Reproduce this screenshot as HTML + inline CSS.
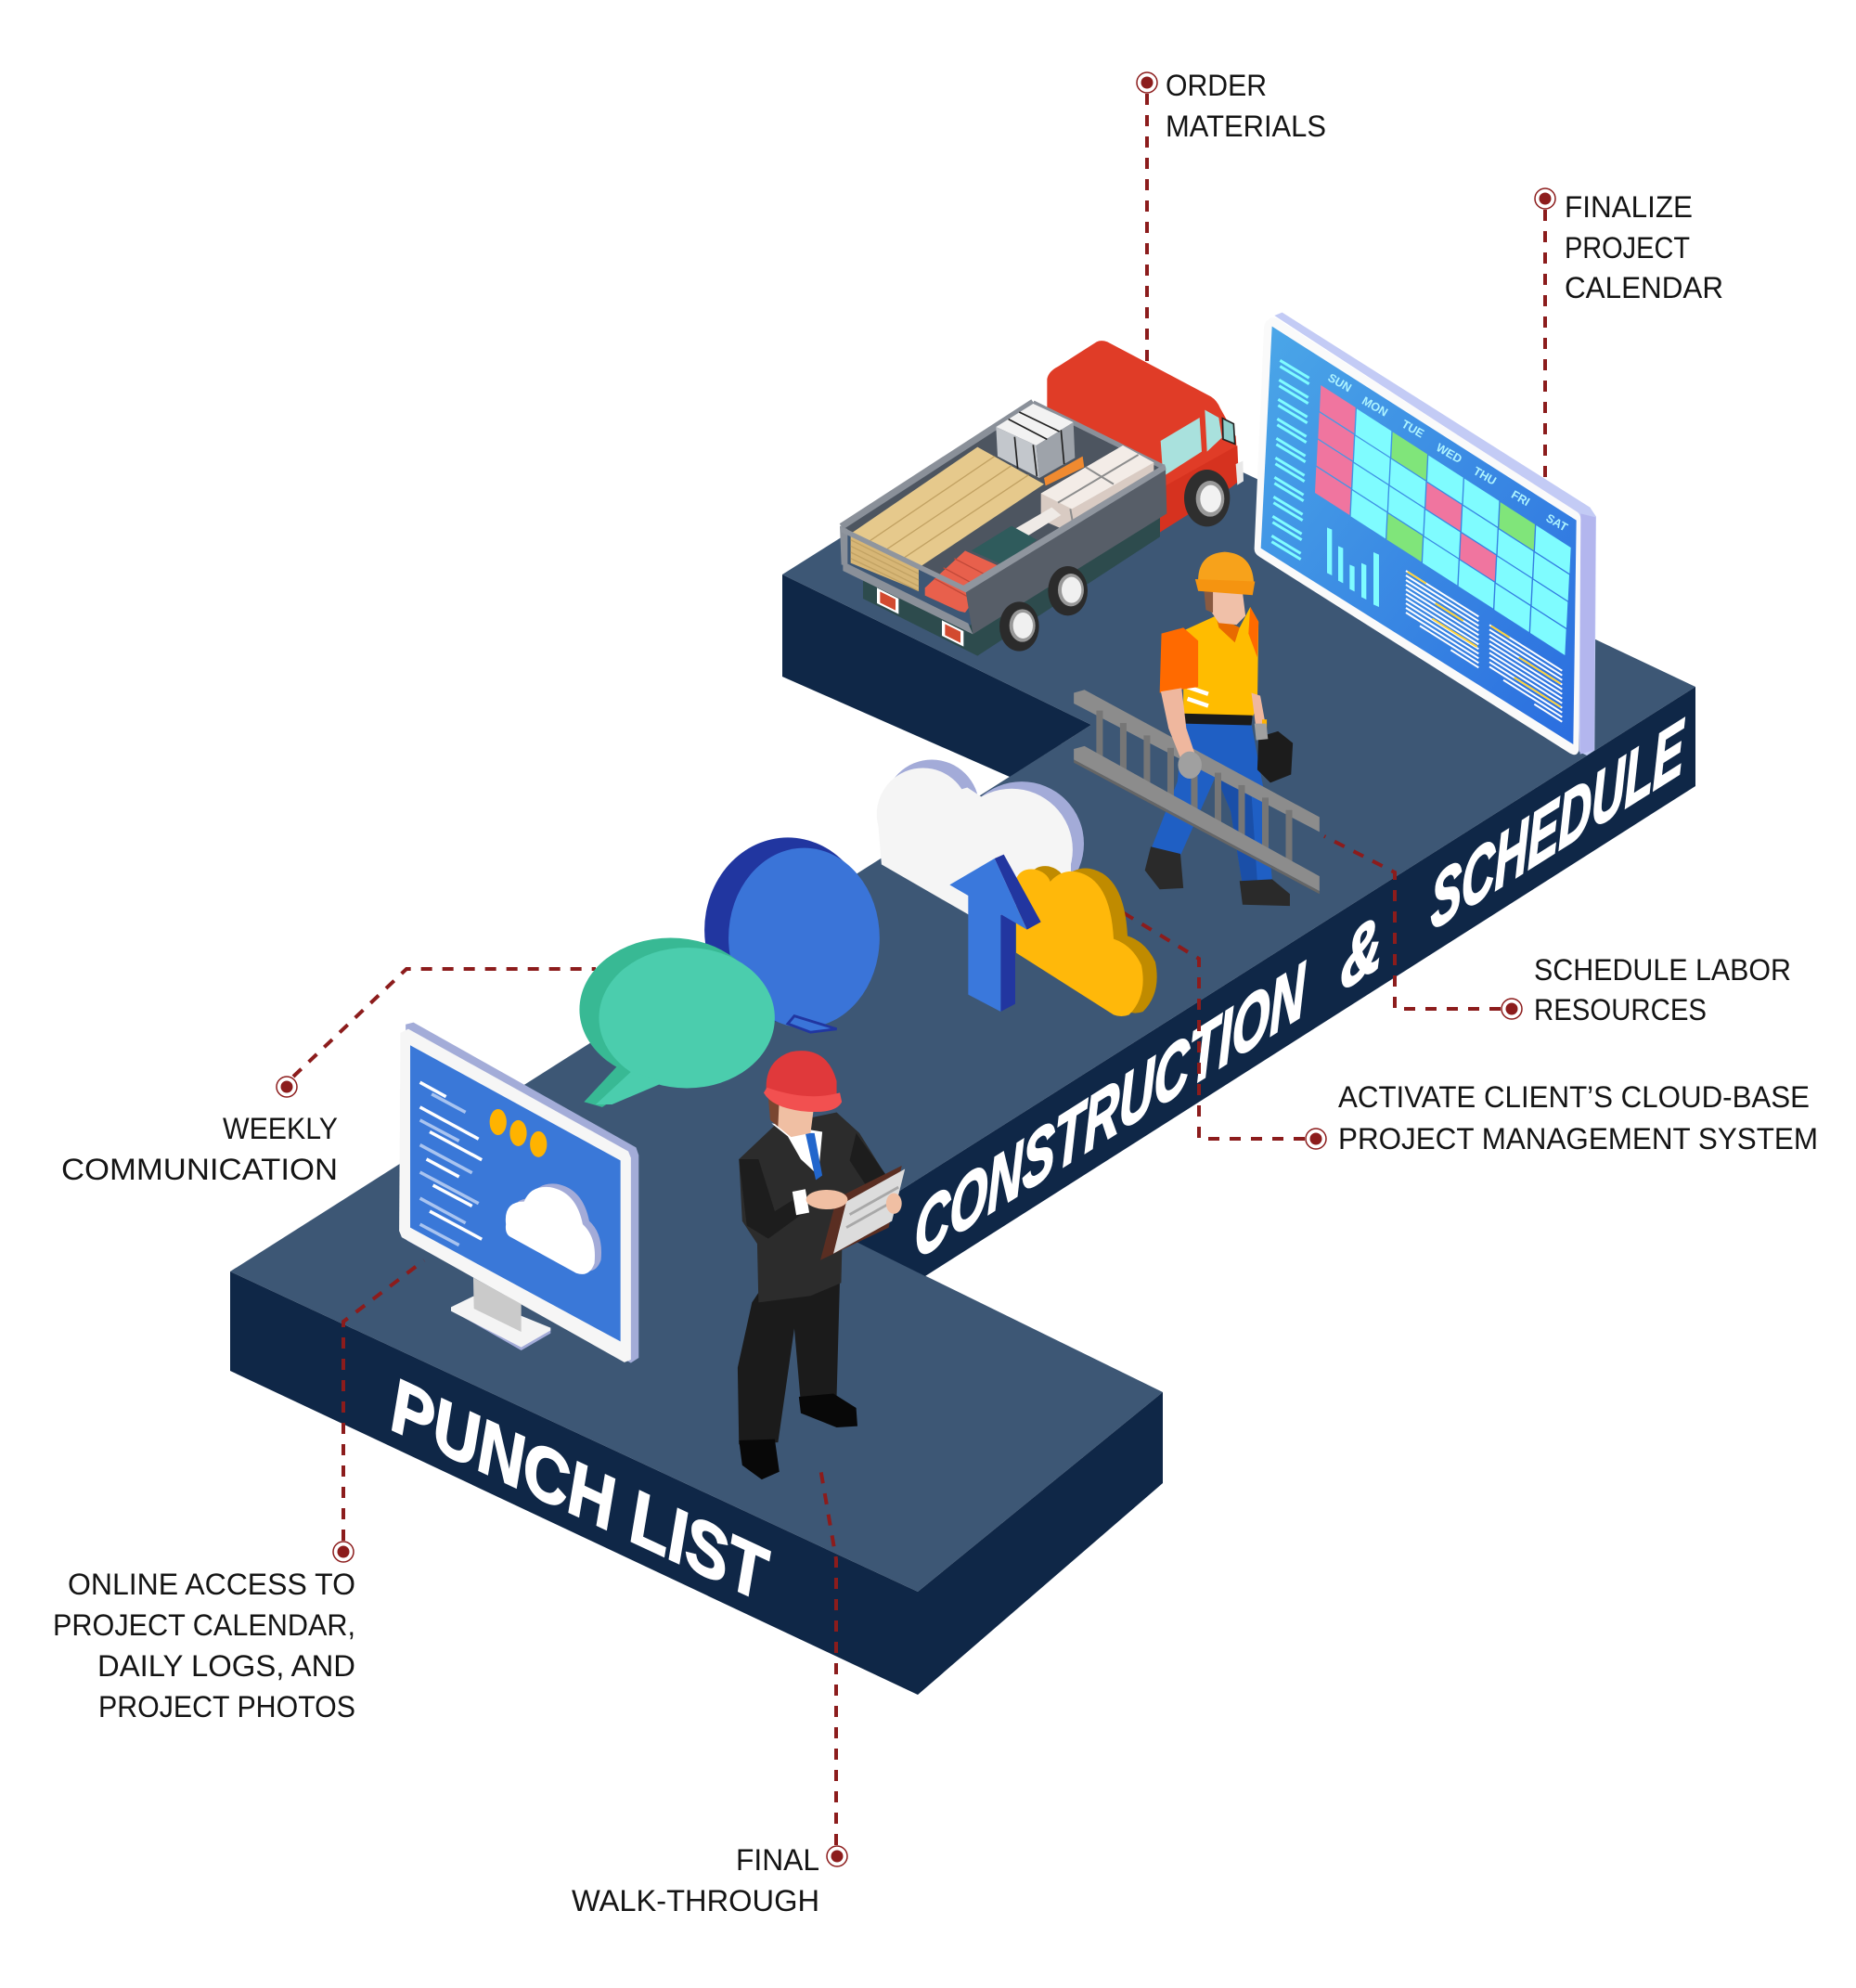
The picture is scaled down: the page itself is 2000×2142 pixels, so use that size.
<!DOCTYPE html>
<html><head><meta charset="utf-8"><style>
html,body{margin:0;padding:0;background:#fff;}
svg{display:block;}
.lbl{font-family:"Liberation Sans",sans-serif;font-size:32px;fill:#141414;}
.big{font-family:"Liberation Sans",sans-serif;font-weight:bold;font-style:italic;fill:#fff;stroke:#fff;stroke-width:2.5;}
</style></head><body>
<svg width="2000" height="2142" viewBox="0 0 2000 2142" xmlns="http://www.w3.org/2000/svg">
<defs>
<linearGradient id="scr" x1="0" y1="0" x2="1" y2="1">
<stop offset="0" stop-color="#4ba7e8"/><stop offset="1" stop-color="#2a6ddf"/>
</linearGradient>
</defs>
<rect width="2000" height="2142" fill="#fff"/>

<!-- platforms -->
<polygon points="843,619 1156,422 1827,740 900,1327 1253,1500 989,1715 248,1370 1176,781" fill="#3d5775"/>
<polygon points="843,619 1176,781 1088,837 843,729" fill="#0f2747"/>
<polygon points="1827,740 1827,847 997,1375 900,1327" fill="#0f2747"/>
<polygon points="248,1370 989,1715 989,1826 248,1477" fill="#0f2747"/>
<polygon points="989,1715 1253,1500 1253,1598 989,1826" fill="#0f2747"/>

<!-- band text -->
<text class="big" font-size="82" transform="matrix(1,-0.632,0,1,986,1358)" textLength="420" lengthAdjust="spacingAndGlyphs">CONSTRUCTION</text>
<text class="big" font-size="82" transform="matrix(1,-0.632,0,1,1445,1068)" textLength="44" lengthAdjust="spacingAndGlyphs">&amp;</text>
<text class="big" font-size="82" transform="matrix(1,-0.632,0,1,1542,1003)" textLength="272" lengthAdjust="spacingAndGlyphs">SCHEDULE</text>
<text class="big" font-size="84" transform="matrix(1,0.466,0,1,422,1540)" textLength="403" lengthAdjust="spacingAndGlyphs">PUNCH LIST</text>

<!-- dashed connectors -->
<g fill="none" stroke="#8c1c1c" stroke-width="4" stroke-dasharray="12 11">
<path d="M1236,101 V395"/>
<path d="M1665,226 V520"/>
<path d="M1617,1087 H1503 V940 L1427,901"/>
<path d="M1406,1227 H1292 V1033 L1208,982"/>
<path d="M316,1160 L438,1044 H642"/>
<path d="M370,1660 V1424 L457,1358"/>
<path d="M901,1988 V1680 L884,1582"/>
</g>
<g>
<circle cx="1236" cy="89" r="11" fill="#fff" stroke="#8c1c1c" stroke-width="1.5"/><circle cx="1236" cy="89" r="6.5" fill="#8c1c1c"/>
<circle cx="1665" cy="214" r="11" fill="#fff" stroke="#8c1c1c" stroke-width="1.5"/><circle cx="1665" cy="214" r="6.5" fill="#8c1c1c"/>
<circle cx="1629" cy="1087" r="11" fill="#fff" stroke="#8c1c1c" stroke-width="1.5"/><circle cx="1629" cy="1087" r="6.5" fill="#8c1c1c"/>
<circle cx="1418" cy="1227" r="11" fill="#fff" stroke="#8c1c1c" stroke-width="1.5"/><circle cx="1418" cy="1227" r="6.5" fill="#8c1c1c"/>
<circle cx="309" cy="1171" r="11" fill="#fff" stroke="#8c1c1c" stroke-width="1.5"/><circle cx="309" cy="1171" r="6.5" fill="#8c1c1c"/>
<circle cx="370" cy="1672" r="11" fill="#fff" stroke="#8c1c1c" stroke-width="1.5"/><circle cx="370" cy="1672" r="6.5" fill="#8c1c1c"/>
<circle cx="902" cy="2000" r="11" fill="#fff" stroke="#8c1c1c" stroke-width="1.5"/><circle cx="902" cy="2000" r="6.5" fill="#8c1c1c"/>
</g>

<!-- labels -->
<text class="lbl" x="1256" y="103" textLength="109" lengthAdjust="spacingAndGlyphs">ORDER</text>
<text class="lbl" x="1256" y="147" textLength="173" lengthAdjust="spacingAndGlyphs">MATERIALS</text>
<text class="lbl" x="1686" y="234" textLength="138" lengthAdjust="spacingAndGlyphs">FINALIZE</text>
<text class="lbl" x="1686" y="278" textLength="135" lengthAdjust="spacingAndGlyphs">PROJECT</text>
<text class="lbl" x="1686" y="321" textLength="171" lengthAdjust="spacingAndGlyphs">CALENDAR</text>
<text class="lbl" x="1653" y="1056" textLength="277" lengthAdjust="spacingAndGlyphs">SCHEDULE LABOR</text>
<text class="lbl" x="1653" y="1099" textLength="186" lengthAdjust="spacingAndGlyphs">RESOURCES</text>
<text class="lbl" x="1442" y="1193" textLength="508" lengthAdjust="spacingAndGlyphs">ACTIVATE CLIENT’S CLOUD-BASE</text>
<text class="lbl" x="1442" y="1238" textLength="517" lengthAdjust="spacingAndGlyphs">PROJECT MANAGEMENT SYSTEM</text>
<text class="lbl" x="240" y="1227" textLength="124" lengthAdjust="spacingAndGlyphs">WEEKLY</text>
<text class="lbl" x="66" y="1271" textLength="298" lengthAdjust="spacingAndGlyphs">COMMUNICATION</text>
<text class="lbl" x="73" y="1718" textLength="310" lengthAdjust="spacingAndGlyphs">ONLINE ACCESS TO</text>
<text class="lbl" x="57" y="1762" textLength="326" lengthAdjust="spacingAndGlyphs">PROJECT CALENDAR,</text>
<text class="lbl" x="105" y="1806" textLength="278" lengthAdjust="spacingAndGlyphs">DAILY LOGS, AND</text>
<text class="lbl" x="106" y="1850" textLength="277" lengthAdjust="spacingAndGlyphs">PROJECT PHOTOS</text>
<text class="lbl" x="793" y="2015" textLength="90" lengthAdjust="spacingAndGlyphs">FINAL</text>
<text class="lbl" x="616" y="2059" textLength="267" lengthAdjust="spacingAndGlyphs">WALK-THROUGH</text>

<!-- TRUCK (zoom7 coords) -->
<g transform="translate(880,340) scale(0.33333)">
<path d="M745,205 Q750,180 780,165 L905,85 Q920,78 940,85 L1275,262 Q1295,275 1305,300 L1355,390 L1365,535 L1340,555 L1110,700 L1108,490 L745,300 Z" fill="#e03c27"/>
<polygon points="1110,560 1360,420 1365,535 1340,555 1110,700" fill="#d6321f"/>
<polygon points="1112,405 1238,330 1245,440 1120,520" fill="#a9e1dd"/>
<polygon points="1255,305 1300,330 1310,395 1262,440" fill="#a9e1dd"/>
<polygon points="1312,332 1348,350 1352,415 1314,400" fill="#8fd0cc" stroke="#222" stroke-width="5"/>
<polygon points="1355,480 1378,470 1380,535 1360,548" fill="#e8e8e8"/>
<ellipse cx="1262" cy="590" rx="74" ry="92" fill="#2f2f2f"/>
<ellipse cx="1272" cy="592" rx="46" ry="58" fill="#999"/>
<ellipse cx="1274" cy="592" rx="34" ry="44" fill="#f2f2f2"/>
<polygon points="150,850 480,1010 1110,650 1110,715 520,1100 150,915" fill="#2d4b4d"/>
<polygon points="75,685 700,280 1125,492 480,885" fill="#4d5560"/>
<line x1="80" y1="682" x2="700" y2="280" stroke="#8a9099" stroke-width="22"/>
<line x1="700" y1="282" x2="1122" y2="490" stroke="#8a9099" stroke-width="16"/>
<!-- wood -->
<polygon points="110,705 520,425 735,545 330,815" fill="#e6c98c"/>
<polygon points="110,705 330,815 330,890 110,800" fill="#d7b676"/>
<g stroke="#c2a263" stroke-width="4">
<line x1="110" y1="725" x2="330" y2="835"/><line x1="110" y1="745" x2="330" y2="855"/><line x1="110" y1="765" x2="330" y2="875"/><line x1="110" y1="785" x2="330" y2="890"/>
<line x1="165" y1="733" x2="575" y2="455"/><line x1="220" y1="760" x2="630" y2="485"/><line x1="275" y1="788" x2="685" y2="515"/>
</g>
<!-- metal bundle -->
<polygon points="580,360 700,285 830,345 710,420" fill="#f2f2f2"/>
<polygon points="580,360 710,420 720,525 585,455" fill="#c3c7cc"/>
<polygon points="710,420 830,345 835,460 720,525" fill="#9ea3aa"/>
<g stroke="#222" stroke-width="5"><line x1="620" y1="335" x2="745" y2="400"/><line x1="655" y1="312" x2="785" y2="375"/><line x1="640" y1="392" x2="650" y2="495"/><line x1="700" y1="418" x2="712" y2="520"/><line x1="790" y1="370" x2="800" y2="480"/></g>
<polygon points="735,525 860,455 865,490 740,550" fill="#f08a30"/>
<!-- boxes -->
<polygon points="725,575 990,420 1090,475 1090,525 795,690 725,660" fill="#d9cbc3"/>
<polygon points="725,575 990,420 1090,475 825,625" fill="#f3ece7"/>
<g stroke="#8d8d8d" stroke-width="6"><line x1="780" y1="605" x2="1040" y2="450"/><line x1="870" y1="490" x2="960" y2="545"/><line x1="820" y1="625" x2="830" y2="680"/></g>
<polygon points="640,690 760,620 790,645 670,720" fill="#efeae6"/>
<polygon points="500,760 630,680 712,725 600,805" fill="#2f5b5c"/>
<polygon points="350,880 480,760 590,810 480,960 460,955 350,905" fill="#e8604c"/>
<g stroke="#c04838" stroke-width="4"><line x1="380" y1="850" x2="500" y2="915"/><line x1="410" y1="815" x2="530" y2="880"/><line x1="445" y1="785" x2="560" y2="845"/></g>
<!-- near wall -->
<polygon points="480,880 1128,488 1132,640 505,1030" fill="#575e68"/>
<polygon points="475,872 1125,480 1130,498 482,895" fill="#8f959e"/>
<polygon points="75,680 100,690 100,810 80,805" fill="#8a9099"/>
<polygon points="85,795 490,995 505,1030 85,825" fill="#8a9099"/>
<polygon points="75,680 480,875 482,895 80,700" fill="#8f959e"/>
<polygon points="195,880 265,915 265,965 195,930" fill="#fff"/>
<polygon points="205,892 255,917 255,953 205,928" fill="#d24a30"/>
<polygon points="405,985 475,1020 475,1070 405,1035" fill="#fff"/>
<polygon points="415,997 465,1022 465,1058 415,1033" fill="#d24a30"/>
<ellipse cx="655" cy="1005" rx="64" ry="80" fill="#2b2b2b"/>
<ellipse cx="665" cy="1002" rx="42" ry="53" fill="#999"/>
<ellipse cx="667" cy="1002" rx="32" ry="42" fill="#f0f0f0"/>
<ellipse cx="812" cy="890" rx="64" ry="80" fill="#2b2b2b"/>
<ellipse cx="822" cy="887" rx="42" ry="53" fill="#999"/>
<ellipse cx="824" cy="887" rx="32" ry="42" fill="#f0f0f0"/>
</g>

<!-- CALENDAR (zoom10 coords) -->
<g transform="translate(1330,320) scale(0.33333)">
<polygon points="130,60 155,50 1150,680 1170,710 1165,1465 1140,1482 1115,1470 1110,700" fill="#c3cbf5"/>
<polygon points="1120,700 1168,712 1163,1465 1118,1478" fill="#b3b6ee"/>
<path d="M112,72 Q97,80 96,100 L65,812 Q64,830 82,840 L1085,1475 Q1108,1488 1114,1465 L1120,718 Q1120,700 1104,692 L135,68 Q122,64 112,72 Z" fill="#fafafa"/>
<polygon points="122,95 1106,722 1096,1446 86,812" fill="url(#scr)"/>
<g stroke="#7ffcff" stroke-width="9">
<line x1="148" y1="205" x2="242" y2="262"/><line x1="148" y1="224" x2="242" y2="281"/>
<line x1="145" y1="268" x2="239" y2="325"/><line x1="145" y1="287" x2="239" y2="344"/>
<line x1="142" y1="331" x2="236" y2="388"/><line x1="142" y1="350" x2="236" y2="407"/>
<line x1="139" y1="394" x2="233" y2="451"/><line x1="139" y1="413" x2="233" y2="470"/>
<line x1="136" y1="457" x2="230" y2="514"/><line x1="136" y1="476" x2="230" y2="533"/>
<line x1="133" y1="520" x2="227" y2="577"/><line x1="133" y1="539" x2="227" y2="596"/>
<line x1="130" y1="583" x2="224" y2="640"/><line x1="130" y1="602" x2="224" y2="659"/>
<line x1="127" y1="646" x2="221" y2="703"/><line x1="127" y1="665" x2="221" y2="722"/>
<line x1="124" y1="709" x2="218" y2="766"/><line x1="124" y1="728" x2="218" y2="785"/>
<line x1="121" y1="772" x2="215" y2="829"/><line x1="121" y1="791" x2="215" y2="848"/>
</g>
<!-- grid cells -->
<g>
<polygon points="280,285 392,357 388,441 276,369" fill="#f0759f"/>
<polygon points="275,373 387,445 383,529 271,457" fill="#f0759f"/>
<polygon points="270,461 382,533 378,617 266,545" fill="#f0759f"/>
<polygon points="265,549 377,621 373,705 261,633" fill="#f0759f"/>
<polygon points="396,361 508,433 504,517 392,445" fill="#7ffcff"/>
<polygon points="391,449 503,521 499,605 387,533" fill="#7ffcff"/>
<polygon points="386,537 498,609 494,693 382,621" fill="#7ffcff"/>
<polygon points="381,625 493,697 489,781 377,709" fill="#7ffcff"/>
<polygon points="512,436 624,508 620,592 508,520" fill="#80e57a"/>
<polygon points="507,524 619,596 615,680 503,608" fill="#7ffcff"/>
<polygon points="502,612 614,684 610,768 498,696" fill="#7ffcff"/>
<polygon points="497,700 609,772 605,856 493,784" fill="#80e57a"/>
<polygon points="628,512 740,584 736,668 624,596" fill="#7ffcff"/>
<polygon points="623,600 735,672 731,756 619,684" fill="#f0759f"/>
<polygon points="618,688 730,760 726,844 614,772" fill="#7ffcff"/>
<polygon points="613,776 725,848 721,932 609,860" fill="#7ffcff"/>
<polygon points="744,587 856,659 852,743 740,671" fill="#7ffcff"/>
<polygon points="739,675 851,747 847,831 735,759" fill="#7ffcff"/>
<polygon points="734,763 846,835 842,919 730,847" fill="#f0759f"/>
<polygon points="729,851 841,923 837,1007 725,935" fill="#7ffcff"/>
<polygon points="860,663 972,735 968,819 856,747" fill="#80e57a"/>
<polygon points="855,751 967,823 963,907 851,835" fill="#7ffcff"/>
<polygon points="850,839 962,911 958,995 846,923" fill="#7ffcff"/>
<polygon points="845,927 957,999 953,1083 841,1011" fill="#7ffcff"/>
<polygon points="976,738 1088,810 1084,894 972,822" fill="#7ffcff"/>
<polygon points="971,826 1083,898 1079,982 967,910" fill="#7ffcff"/>
<polygon points="966,914 1078,986 1074,1070 962,998" fill="#7ffcff"/>
<polygon points="961,1002 1073,1074 1069,1158 957,1086" fill="#7ffcff"/>
</g>
<g font-family="Liberation Sans,sans-serif" font-weight="bold" font-size="38" fill="#aef4ff">
<text transform="translate(300,268) rotate(30)">SUN</text>
<text transform="translate(410,343) rotate(30)">MON</text>
<text transform="translate(538,418) rotate(30)">TUE</text>
<text transform="translate(650,494) rotate(30)">WED</text>
<text transform="translate(770,570) rotate(30)">THU</text>
<text transform="translate(893,646) rotate(30)">FRI</text>
<text transform="translate(1005,722) rotate(30)">SAT</text>
</g>
<g fill="#7ffcff">
<polygon points="300,745 316,752 316,900 300,892"/>
<polygon points="336,805 352,812 352,925 336,917"/>
<polygon points="373,865 389,872 389,952 373,944"/>
<polygon points="411,860 427,867 427,978 411,970"/>
<polygon points="450,825 468,833 468,1002 450,994"/>
</g>
<g stroke="#fff" stroke-width="6">
<line x1="555" y1="885" x2="790" y2="1033"/><line x1="555" y1="900" x2="790" y2="1048"/><line x1="555" y1="915" x2="790" y2="1063"/><line x1="555" y1="930" x2="790" y2="1078"/><line x1="555" y1="945" x2="790" y2="1093"/><line x1="555" y1="960" x2="790" y2="1108"/><line x1="555" y1="975" x2="790" y2="1123"/><line x1="555" y1="990" x2="790" y2="1138"/><line x1="555" y1="1005" x2="790" y2="1153"/><line x1="555" y1="1020" x2="790" y2="1168"/><line x1="600" y1="1063" x2="790" y2="1183"/><line x1="700" y1="1141" x2="790" y2="1198"/>
<line x1="825" y1="1060" x2="1060" y2="1208"/><line x1="825" y1="1075" x2="1060" y2="1223"/><line x1="825" y1="1090" x2="1060" y2="1238"/><line x1="825" y1="1105" x2="1060" y2="1253"/><line x1="825" y1="1120" x2="1060" y2="1268"/><line x1="825" y1="1135" x2="1060" y2="1283"/><line x1="825" y1="1150" x2="1060" y2="1298"/><line x1="825" y1="1165" x2="1060" y2="1313"/><line x1="825" y1="1180" x2="1060" y2="1328"/><line x1="825" y1="1195" x2="1060" y2="1343"/><line x1="870" y1="1238" x2="1060" y2="1358"/><line x1="970" y1="1316" x2="1060" y2="1373"/>
</g>
<g stroke="#ffd23a" stroke-width="6">
<line x1="560" y1="888" x2="620" y2="926"/><line x1="650" y1="990" x2="740" y2="1047"/><line x1="640" y1="1040" x2="785" y2="1131"/>
<line x1="830" y1="1063" x2="890" y2="1101"/><line x1="920" y1="1165" x2="1055" y2="1250"/><line x1="905" y1="1230" x2="1055" y2="1325"/>
</g>
</g>

<!-- WORKER (zoom3 coords) -->
<g transform="translate(800,300) scale(0.6378)">
<polygon points="745,750 860,752 880,860 895,1015 845,1025 825,900 800,840 740,975 690,965 735,850" fill="#1f5fc4"/>
<polygon points="800,840 825,900 845,1025 870,1020 860,870" fill="#1a4fa8"/>
<polygon points="690,960 740,972 745,1030 705,1032 680,1000" fill="#2a2a2a"/>
<polygon points="840,1018 895,1015 925,1040 925,1060 845,1058" fill="#2a2a2a"/>
<!-- ladder -->
<polygon points="560,700 578,695 975,910 975,935 560,718" fill="#8c8c8c"/>
<g fill="#767676">
<rect x="598" y="730" width="11" height="95"/><rect x="638" y="751" width="11" height="96"/><rect x="678" y="772" width="11" height="98"/><rect x="718" y="793" width="11" height="100"/><rect x="758" y="814" width="11" height="101"/><rect x="798" y="835" width="11" height="103"/><rect x="838" y="856" width="11" height="104"/><rect x="878" y="877" width="11" height="106"/><rect x="918" y="898" width="11" height="107"/>
</g>
<polygon points="560,795 578,790 975,1010 975,1035 560,813" fill="#8c8c8c"/>
<polygon points="560,813 975,1035 975,1040 560,818" fill="#666"/>
<!-- upper body -->
<polygon points="745,595 800,570 840,590 858,555 872,580 870,725 862,740 745,742" fill="#ffbc00"/>
<polygon points="800,570 840,590 832,615 805,590" fill="#e86a00"/>
<polygon points="858,555 872,580 870,640 855,600" fill="#ff6a00"/>
<g stroke="#fff" stroke-width="7"><line x1="752" y1="690" x2="787" y2="702"/><line x1="752" y1="710" x2="787" y2="722"/></g>
<polygon points="745,735 862,738 860,755 745,752" fill="#1a1a1a"/>
<polygon points="708,600 745,590 770,612 770,690 705,700" fill="#ff6a00"/>
<polygon points="707,698 742,692 750,760 765,805 742,815 720,760" fill="#efb79e"/>
<ellipse cx="756" cy="822" rx="20" ry="23" fill="#a0a0a0"/>
<polygon points="860,700 875,705 885,760 868,762" fill="#efb79e"/>
<polygon points="872,775 905,765 930,785 927,838 892,852 870,830" fill="#1c1c1c"/>
<polygon points="878,745 886,745 886,775 878,775" fill="#ffb300"/>
<polygon points="865,752 885,752 888,778 868,780" fill="#a0a0a0"/>
<polygon points="790,525 845,530 850,570 835,585 805,582 790,560" fill="#f0c0a8"/>
<polygon points="780,528 795,528 795,565 783,560" fill="#8a5a40"/>
<path d="M770,515 Q768,465 815,462 Q862,465 864,515 Z" fill="#f7a21b"/>
<polygon points="765,508 866,512 862,535 770,528" fill="#f59410"/>
</g>

<!-- WHITE CLOUD (zoom3 coords) -->
<g transform="translate(800,300) scale(0.6378)">
<circle cx="320" cy="893" r="80" fill="#a3abd8"/>
<circle cx="472" cy="955" r="105" fill="#a3abd8"/>
<circle cx="305" cy="905" r="78" fill="#f5f5f5"/>
<circle cx="455" cy="965" r="103" fill="#f5f5f5"/>
<polygon points="228,905 380,860 555,975 555,1045 400,1085 235,990" fill="#f5f5f5"/>
</g>

<!-- YELLOW CLOUD + ARROW (zoom8 coords) -->
<g transform="translate(1000,900) scale(0.33333)">
<path d="M330,370 L330,130 Q345,95 390,100 Q430,110 440,140 Q475,100 525,108 Q635,130 645,325 Q705,345 735,410 Q755,510 695,570 Q670,580 645,570 Z" fill="#c08b00"/>
<path d="M285,380 L285,140 Q300,105 345,110 Q385,120 395,150 Q430,110 480,118 Q590,140 600,335 Q660,355 690,420 Q710,520 650,580 Q625,590 600,580 Z" fill="#ffb80a"/>
<polygon points="215,75 245,62 365,280 320,305" fill="#2236a0"/>
<polygon points="235,255 282,280 282,545 235,570" fill="#2236a0"/>
<polygon points="215,75 70,160 130,195 130,515 235,570 235,255 320,305" fill="#3a78dc"/>
</g>

<!-- BUBBLES, MONITOR, MAN (zoom4 coords) -->
<g transform="translate(200,800) scale(0.70153)">
<ellipse cx="925" cy="288" rx="128" ry="142" fill="#2136a0"/>
<ellipse cx="950" cy="300" rx="116" ry="138" fill="#3a74d8"/>
<polygon points="935,420 1000,440 960,445 925,432" fill="#3a74d8" stroke="#2136a0" stroke-width="4"/>
<ellipse cx="745" cy="410" rx="140" ry="110" fill="#38b994"/>
<polygon points="665,495 612,552 640,560 700,520" fill="#38b994"/>
<ellipse cx="770" cy="423" rx="135" ry="108" fill="#4bcdad"/>
<polygon points="685,505 630,556 655,556 735,522" fill="#4bcdad"/>
<!-- monitor -->
<polygon points="338,433 350,430 692,622 696,634 696,945 684,953 340,765" fill="#a3acd8"/>
<polygon points="330,446 342,440 680,628 684,638 684,948 674,952 332,760 328,750" fill="#f6f6f6"/>
<polygon points="345,465 668,642 668,920 345,745" fill="#3a78d8"/>
<g stroke-width="5">
<line x1="360" y1="522" x2="400" y2="544" stroke="#fff"/><line x1="378" y1="540" x2="430" y2="568" stroke="#a9c4f0"/><line x1="360" y1="560" x2="450" y2="609" stroke="#fff"/><line x1="360" y1="580" x2="420" y2="612" stroke="#a9c4f0"/><line x1="375" y1="598" x2="455" y2="641" stroke="#fff"/><line x1="360" y1="618" x2="440" y2="661" stroke="#a9c4f0"/><line x1="370" y1="640" x2="420" y2="667" stroke="#fff"/><line x1="360" y1="660" x2="450" y2="708" stroke="#a9c4f0"/><line x1="380" y1="680" x2="440" y2="712" stroke="#fff"/><line x1="360" y1="700" x2="430" y2="738" stroke="#a9c4f0"/><line x1="375" y1="720" x2="455" y2="763" stroke="#fff"/><line x1="360" y1="740" x2="420" y2="772" stroke="#a9c4f0"/>
</g>
<ellipse cx="480" cy="583" rx="13" ry="20" fill="#ffb300"/>
<ellipse cx="511" cy="600" rx="13" ry="20" fill="#ffb300"/>
<ellipse cx="542" cy="617" rx="13" ry="20" fill="#ffb300"/>
<path d="M502,735 Q498,700 530,700 Q540,675 570,678 Q610,685 620,735 Q642,755 638,795 Q630,817 610,810 L510,755 Q500,750 502,735 Z" fill="#a3abd8"/>
<path d="M492,740 Q488,705 520,705 Q530,680 560,683 Q600,690 610,740 Q632,760 628,800 Q620,822 600,815 L500,760 Q490,755 492,740 Z" fill="#fff"/>
</g>
<g transform="translate(380,1340) scale(0.33333)">
<polygon points="318,215 545,345 640,290 640,278 545,330 318,205" fill="#a3abd8"/>
<polygon points="318,205 390,170 640,272 640,280 545,335 318,218" fill="#f4f4f4"/>
<polygon points="390,110 545,195 545,285 392,210" fill="#cacaca"/>
</g>
<g transform="translate(200,800) scale(0.70153)">
<polygon points="880,845 1005,825 1000,1005 945,1015 935,900 910,1075 850,1078 848,960 870,860" fill="#1b1b1b"/>
<polygon points="850,1072 905,1070 912,1120 885,1132 855,1110" fill="#080808"/>
<polygon points="942,1005 995,1000 1030,1022 1032,1050 1000,1052 945,1030" fill="#080808"/>
<polygon points="850,640 905,588 1000,568 1035,600 1080,672 1070,700 1010,705 1007,830 960,850 880,860 878,770 855,735" fill="#2c2c2c"/>
<polygon points="850,640 880,640 905,720 945,695 950,722 895,762 862,742" fill="#1d1d1d"/>
<polygon points="1030,600 1080,670 1092,700 1062,706 1020,642" fill="#1d1d1d"/>
<polygon points="900,585 978,598 972,665 945,640 925,605" fill="#fff"/>
<polygon points="952,600 966,600 978,665 968,672" fill="#2266cc"/>
<polygon points="932,690 952,686 958,722 938,726" fill="#fff"/>
<polygon points="975,795 1000,700 1100,650 1080,745" fill="#5a2e22"/>
<polygon points="995,785 1015,705 1105,655 1085,735" fill="#dcdcdc"/>
<g stroke="#a8a8a8" stroke-width="4"><line x1="1020" y1="725" x2="1095" y2="683"/><line x1="1015" y1="745" x2="1090" y2="703"/></g>
<ellipse cx="985" cy="702" rx="32" ry="15" fill="#f0bfa3"/>
<ellipse cx="1088" cy="708" rx="12" ry="16" fill="#f0bfa3"/>
<polygon points="905,548 965,560 960,600 930,606 910,590" fill="#f0bfa3"/>
<polygon points="895,545 912,545 910,590 898,580" fill="#7a4630"/>
<path d="M893,545 Q885,490 930,475 Q985,465 1000,520 L1000,555 Z" fill="#e0393b"/>
<path d="M888,538 Q900,560 945,566 Q998,572 1008,552 L1005,538 Q955,552 893,530 Z" fill="#f25050"/>
</g>
</svg>
</body></html>
